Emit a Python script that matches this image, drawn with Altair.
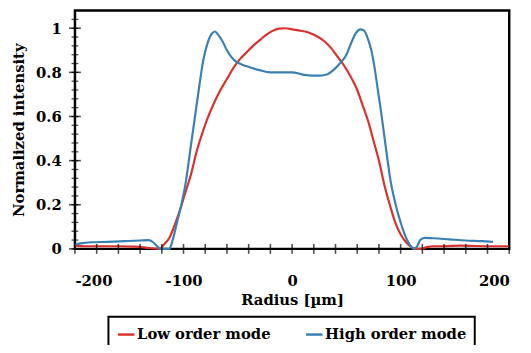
import altair as alt
import pandas as pd

low_x = [-200, -190, -175, -160, -145, -135, -128, -122, -118, -113, -108, -103, -98, -93, -88, -83, -78,
         -72, -66, -60, -54, -48, -42, -36, -30, -24, -18, -12, -6, 0, 6, 12, 18, 24, 30, 36, 42, 48, 54,
         60, 65, 70, 75, 80, 85, 90, 95, 100, 105, 110, 114, 118, 124, 130, 140, 155, 170, 185, 200]
low_y = [0.015, 0.012, 0.012, 0.012, 0.010, 0.006, 0.002, 0.0, 0.02, 0.05, 0.11, 0.18, 0.26, 0.34, 0.44,
         0.52, 0.59, 0.66, 0.72, 0.77, 0.82, 0.86, 0.89, 0.92, 0.945, 0.97, 0.988, 0.998, 1.0, 0.995, 0.99,
         0.985, 0.975, 0.96, 0.94, 0.91, 0.87, 0.83, 0.78, 0.72, 0.65, 0.58, 0.49, 0.40, 0.29, 0.20, 0.12,
         0.065, 0.03, 0.008, 0.0, 0.0, 0.008, 0.012, 0.012, 0.015, 0.013, 0.012, 0.012]

high_x = [-200, -195, -185, -170, -155, -140, -132, -128, -124, -121, -117, -113, -110, -106, -102, -98,
          -94, -90, -86, -82, -78, -74, -71, -68, -64, -60, -56, -52, -46, -40, -30, -20, -10, 0, 10, 18,
          26, 32, 38, 44, 50, 55, 59, 63, 66, 70, 73, 76, 79, 82, 85, 88, 91, 94, 97, 100, 103, 106, 109,
          112, 115, 118, 122, 130, 145, 160, 175, 185]
high_y = [0.02, 0.025, 0.03, 0.032, 0.035, 0.038, 0.04, 0.03, 0.01, 0.0, 0.0, 0.0, 0.04, 0.12, 0.20, 0.30,
          0.44, 0.58, 0.72, 0.85, 0.93, 0.975, 0.985, 0.97, 0.94, 0.90, 0.87, 0.85, 0.835, 0.825, 0.81,
          0.80, 0.80, 0.80, 0.79, 0.785, 0.785, 0.79, 0.81, 0.84, 0.88, 0.94, 0.98, 0.995, 0.99, 0.95, 0.90,
          0.82, 0.72, 0.62, 0.51, 0.40, 0.30, 0.23, 0.17, 0.12, 0.075, 0.04, 0.015, 0.0, 0.01, 0.04, 0.05,
          0.048, 0.043, 0.038, 0.035, 0.032]

series_names = ["Low order mode", "High order mode"]
series_colors = ["#d9322e", "#3a80b2"]

x_labels = [-200, -100, 0, 100, 200]
x_ticks = list(range(-200, 201, 20))
y_minor = [round(i * 0.04, 2) for i in range(0, 27)]
y_major = [0, 0.2, 0.4, 0.6, 0.8, 1.0]

df = pd.concat([
    pd.DataFrame({"x": low_x, "y": low_y, "s": series_names[0]}),
    pd.DataFrame({"x": high_x, "y": high_y, "s": series_names[1]}),
])

W, H = 441, 242
FONT = "DejaVu Serif"

xscale = alt.Scale(domain=[-200, 200], nice=False)
yscale = alt.Scale(domain=[0, 1.08], nice=False)

xaxis = alt.Axis(title="Radius [\u00b5m]", values=x_labels, ticks=False, domain=False, grid=False,
                 labelPadding=25, titlePadding=5, labelExpr="'' + datum.value")
yaxis = alt.Axis(title="Normalized intensity", values=y_major, ticks=False, domain=False, grid=False,
                 labelPadding=14, titlePadding=9, labelExpr="'' + datum.value")

lines = alt.Chart(df).mark_line(strokeWidth=2.2, interpolate="monotone").encode(
    x=alt.X("x:Q", scale=xscale, axis=xaxis),
    y=alt.Y("y:Q", scale=yscale, axis=yaxis),
    color=alt.Color("s:N", scale=alt.Scale(domain=series_names, range=series_colors),
                    legend=alt.Legend(title=None, orient="none", legendX=34, legendY=311,
                                      direction="horizontal", symbolType="stroke", symbolSize=280,
                                      symbolStrokeWidth=2.5, labelOffset=1, columnPadding=30,
                                      strokeColor="black", padding=8, labelLimit=0,
                                      labelFont=FONT, labelFontSize=15, labelFontWeight="bold",
                                      labelColor="black")),
)

# inward x ticks (centred on the bottom edge, half inside)
xt = alt.Chart(pd.DataFrame({"t": x_ticks})).mark_tick(color="black", thickness=1.6, size=10,
                                                         orient="vertical").encode(
    x=alt.X("t:Q", scale=xscale, axis=xaxis), y=alt.value(H))

# inward major y ticks
yM = alt.Chart(pd.DataFrame({"t": y_major})).mark_tick(color="black", thickness=1.6, size=12,
                                                         orient="horizontal").encode(
    y=alt.Y("t:Q", scale=yscale, axis=yaxis), x=alt.value(0))

# inward minor y ticks
ym = alt.Chart(pd.DataFrame({"t": y_minor})).mark_tick(color="black", thickness=1.3, size=7,
                                                         orient="horizontal").encode(
    y=alt.Y("t:Q", scale=yscale, axis=yaxis), x=alt.value(0))

chart = alt.layer(lines, xt, yM, ym).properties(
    width=W, height=H,
    autosize=alt.AutoSizeParams(type="none"),
    padding={"left": 68, "top": 0, "right": 14, "bottom": 95},
).configure_view(stroke="black", strokeWidth=2.5).configure_axis(
    labelFont=FONT, labelFontSize=15, labelFontWeight="bold", labelColor="black",
    titleFont=FONT, titleFontSize=15, titleFontWeight="bold", titleColor="black",
).configure_legend(strokeWidth=2)

chart.save("out.html", embed_options={"renderer": "svg", "actions": False})
